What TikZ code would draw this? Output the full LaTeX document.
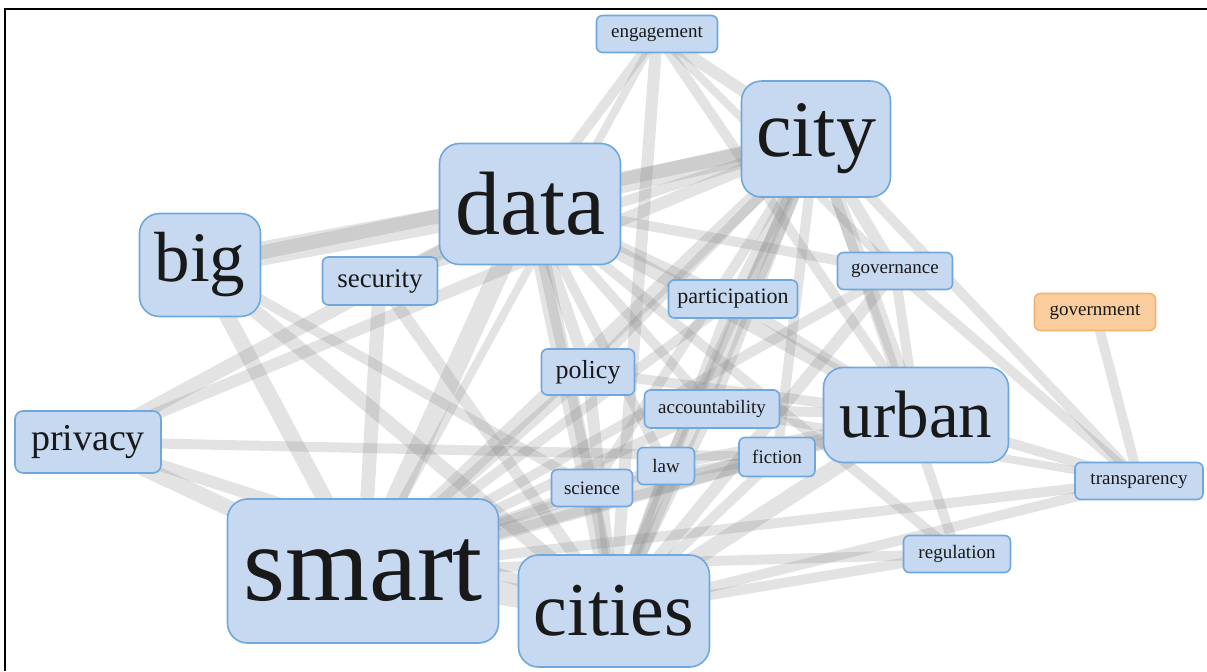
\documentclass[tikz,border=0pt]{standalone}
\usepackage{fontspec}
\setmainfont{Liberation Serif}
\usepackage{tikz}
\usepackage{xcolor}
\usetikzlibrary{backgrounds}

\definecolor{termfill}{RGB}{198,217,240}
\definecolor{termline}{RGB}{111,168,220}
\definecolor{govfill}{RGB}{249,205,158}
\definecolor{govline}{RGB}{244,180,110}
\newcommand{\wordsize}[1]{\fontsize{#1}{#1}\selectfont}

\tikzset{
    term/.style={draw=termline, fill=termfill, line width=0.8pt, rounded corners=3pt, inner sep=0pt, text=black!90},
    hub/.style={term, rounded corners=10pt},
    link/.style={draw=black!50, draw opacity=0.22, line cap=butt}
}

\begin{document}
\begin{tikzpicture}[x=0.5pt, y=-0.5pt]
        \useasboundingbox (0,0) rectangle (1207,671);
        \draw[line width=0.8pt] (5,671) -- (5,9) -- (1207,9);

        \node[term, minimum width=60.5pt, minimum height=18.5pt, font=\wordsize{9.5}] (engagement) at (657,34) {engagement};
        \node[hub, minimum width=74.5pt, minimum height=58pt, font=\wordsize{40}] (city) at (816,139) {city};
        \node[hub, minimum width=90.5pt, minimum height=60.5pt, font=\wordsize{45}] (data) at (530,204) {data};
        \node[hub, minimum width=60.5pt, minimum height=51.5pt, font=\wordsize{35.5}] (big) at (200,265) {big};
        \node[term, minimum width=57.5pt, minimum height=24pt, font=\wordsize{13.5}] (security) at (380,281) {security};
        \node[term, minimum width=57.5pt, minimum height=18.5pt, font=\wordsize{9.5}] (governance) at (895,271) {governance};
        \node[term, minimum width=64.5pt, minimum height=19pt, font=\wordsize{11}] (participation) at (733,299) {participation};
        \node[term, draw=govline, fill=govfill, minimum width=60.5pt, minimum height=18.5pt, font=\wordsize{9.5}] (government) at (1095,312) {government};
        \node[term, minimum width=46.5pt, minimum height=23pt, font=\wordsize{13}] (policy) at (588,372) {policy};
        \node[term, minimum width=67.5pt, minimum height=19pt, font=\wordsize{9.5}] (accountability) at (712,409) {accountability};
        \node[hub, minimum width=92.5pt, minimum height=47.5pt, font=\wordsize{33.5}] (urban) at (916,415) {urban};
        \node[term, rounded corners=4pt, minimum width=73pt, minimum height=31pt, font=\wordsize{19}] (privacy) at (88,442) {privacy};
        \node[term, minimum width=28.5pt, minimum height=18.5pt, font=\wordsize{9.5}] (law) at (666,466) {law};
        \node[term, minimum width=38pt, minimum height=19.5pt, font=\wordsize{9.5}] (fiction) at (777,457) {fiction};
        \node[term, minimum width=40.5pt, minimum height=18.5pt, font=\wordsize{9.5}] (science) at (592,488) {science};
        \node[term, minimum width=64pt, minimum height=18.5pt, font=\wordsize{9.5}] (transparency) at (1139,481) {transparency};
        \node[hub, minimum width=135.5pt, minimum height=72pt, font=\wordsize{54}] (smart) at (363,571) {smart};
        \node[term, minimum width=53.5pt, minimum height=18.5pt, font=\wordsize{9.5}] (regulation) at (957,554) {regulation};
        \node[hub, minimum width=95.5pt, minimum height=56pt, font=\wordsize{38}] (cities) at (614,611) {cities};

        \begin{pgfonlayer}{background}
        \foreach \a/\b/\w in {big/data/12, big/city/7, data/city/10, big/smart/8, big/cities/7, big/science/5,
            data/smart/10, data/cities/9, data/urban/7, city/smart/8, city/cities/8, city/urban/7,
            smart/cities/12, smart/urban/8, cities/urban/8, smart/privacy/8, cities/privacy/6, data/privacy/7,
            city/privacy/6, privacy/fiction/5, data/security/6, smart/security/7, cities/security/6, security/city/5,
            engagement/data/5, engagement/smart/4, engagement/cities/6, engagement/city/6, engagement/urban/5, engagement/governance/4,
            participation/city/6, participation/data/5, participation/smart/5, participation/cities/6, participation/urban/5,
            governance/city/6, governance/data/5, governance/smart/5, governance/cities/6, governance/urban/5, governance/transparency/5,
            policy/data/6, policy/smart/6, policy/cities/6, policy/city/5, policy/urban/5,
            accountability/data/5, accountability/smart/5, accountability/cities/5, accountability/city/5, accountability/urban/5, accountability/transparency/4,
            law/smart/5, law/cities/5, law/data/5, law/city/5, law/urban/5,
            fiction/smart/5, fiction/cities/5, fiction/city/5, fiction/science/5, fiction/urban/5,
            science/smart/5, science/cities/5, science/data/5, science/city/5,
            transparency/city/5, transparency/urban/5, transparency/smart/5, transparency/cities/5, transparency/government/5,
            regulation/city/5, regulation/data/5, regulation/smart/5, regulation/cities/5}
            \draw[link, line width=\w pt] (\a.center) -- (\b.center);
        \end{pgfonlayer}
    \end{tikzpicture}
\end{document}
